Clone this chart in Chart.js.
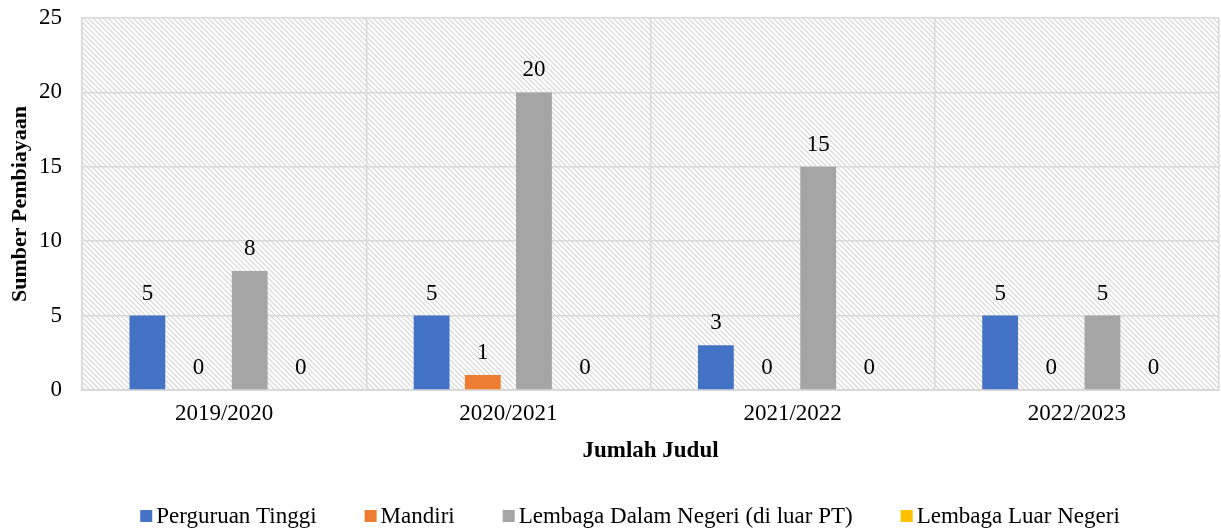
<!DOCTYPE html>
<html>
<head>
<meta charset="utf-8">
<script src="https://cdn.jsdelivr.net/npm/chart.js@4/dist/chart.umd.min.js"></script>
<style>
html,body{margin:0;padding:0;background:#fff;}
#wrap{width:1221px;height:531px;position:relative;}
</style>
</head>
<body>
<div id="wrap"><canvas id="c" width="1221" height="531"></canvas></div>
<script>
const categories = ["2019/2020", "2020/2021", "2021/2022", "2022/2023"];
const perguruanTinggi = [5, 5, 3, 5];
const mandiri = [0, 1, 0, 0];
const lembagaDalamNegeri = [8, 20, 15, 5];
const lembagaLuarNegeri = [0, 0, 0, 0];
const yTicks = [0, 5, 10, 15, 20, 25];

const FONT = "'Liberation Serif', 'Times New Roman', serif";
const FS = 23;

function makePattern(ctx) {
  const s = 5;
  const c = document.createElement('canvas');
  c.width = s; c.height = s;
  const g = c.getContext('2d');
  g.fillStyle = '#ffffff';
  g.fillRect(0, 0, s, s);
  g.strokeStyle = '#d4d4d4';
  g.lineWidth = 1.1;
  g.beginPath();
  g.moveTo(-1, -1); g.lineTo(s + 1, s + 1);
  g.moveTo(-1, s - 1); g.lineTo(1, s + 1);
  g.moveTo(s - 1, -1); g.lineTo(s + 1, 1);
  g.stroke();
  return ctx.createPattern(c, 'repeat');
}

const bgPlugin = {
  id: 'hatchBg',
  beforeDraw(chart) {
    const {ctx, chartArea: a} = chart;
    ctx.save();
    ctx.fillStyle = makePattern(ctx);
    ctx.fillRect(a.left, a.top, a.right - a.left, a.bottom - a.top);
    ctx.restore();
  }
};

const labelPlugin = {
  id: 'valLabels',
  afterDatasetsDraw(chart) {
    const ctx = chart.ctx;
    ctx.save();
    ctx.font = FS + "px " + FONT;
    ctx.fillStyle = '#000';
    ctx.textAlign = 'center';
    ctx.textBaseline = 'alphabetic';
    chart.data.datasets.forEach((ds, i) => {
      const meta = chart.getDatasetMeta(i);
      meta.data.forEach((el, j) => {
        ctx.fillText(String(ds.data[j]), el.x, el.y - 16);
      });
    });
    ctx.restore();
  }
};

const legendPlugin = {
  id: 'customLegend',
  afterDraw(chart) {
    const ctx = chart.ctx;
    ctx.save();
    ctx.font = FS + "px " + FONT;
    ctx.textBaseline = 'middle';
    ctx.textAlign = 'left';
    const box = 12, gapBox = 4, gapItem = 48, cy = 516, cx = 630;
    const items = chart.data.datasets.map(ds => ({text: ds.label, color: ds.backgroundColor, w: box + gapBox + ctx.measureText(ds.label).width}));
    const total = items.reduce((s, it) => s + it.w, 0) + gapItem * (items.length - 1);
    let x = cx - total / 2;
    items.forEach(it => {
      ctx.fillStyle = it.color;
      ctx.fillRect(x, cy - box / 2, box, box);
      ctx.fillStyle = '#000';
      ctx.fillText(it.text, x + box + gapBox, cy + 1);
      x += it.w + gapItem;
    });
    ctx.restore();
  }
};

new Chart(document.getElementById('c'), {
  type: 'bar',
  data: {
    labels: categories,
    datasets: [
      {label: 'Perguruan Tinggi', data: perguruanTinggi, backgroundColor: '#4472C4'},
      {label: 'Mandiri', data: mandiri, backgroundColor: '#ED7D31'},
      {label: 'Lembaga Dalam Negeri (di luar PT)', data: lembagaDalamNegeri, backgroundColor: '#A5A5A5'},
      {label: 'Lembaga Luar Negeri', data: lembagaLuarNegeri, backgroundColor: '#FFC000'}
    ]
  },
  options: {
    responsive: false,
    animation: false,
    devicePixelRatio: 1,
    layout: {padding: {left: 2, right: 2, top: 18, bottom: 60}},
    datasets: {bar: {categoryPercentage: 0.72, barPercentage: 0.7}},
    plugins: {
      legend: {display: false},
      tooltip: {enabled: false}
    },
    scales: {
      x: {
        grid: {color: '#d9d9d9', lineWidth: 1.5, drawTicks: false},
        border: {color: '#d9d9d9', width: 2},
        ticks: {font: {family: FONT, size: FS}, color: '#000', padding: 10},
        title: {display: true, text: 'Jumlah Judul', font: {family: FONT, size: FS, weight: 'bold'}, color: '#000', padding: {top: 4, bottom: 6}},
        afterFit(scale) { scale.height = 81; scale.paddingLeft = 0; scale.paddingRight = 0; }
      },
      y: {
        min: 0, max: 25,
        afterBuildTicks(scale) { scale.ticks = yTicks.map(v => ({value: v})); },
        grid: {color: '#d9d9d9', lineWidth: 1.5, drawTicks: false},
        border: {color: '#d9d9d9', width: 1.5},
        ticks: {font: {family: FONT, size: FS}, color: '#000', padding: 20},
        title: {display: true, text: 'Sumber Pembiayaan', font: {family: FONT, size: 22, weight: 'bold'}, color: '#000', padding: {top: 5, bottom: 4}},
        afterFit(scale) { scale.width = 80; scale.paddingTop = 0; scale.paddingBottom = 0; }
      }
    }
  },
  plugins: [bgPlugin, labelPlugin, legendPlugin]
});
</script>
</body>
</html>
